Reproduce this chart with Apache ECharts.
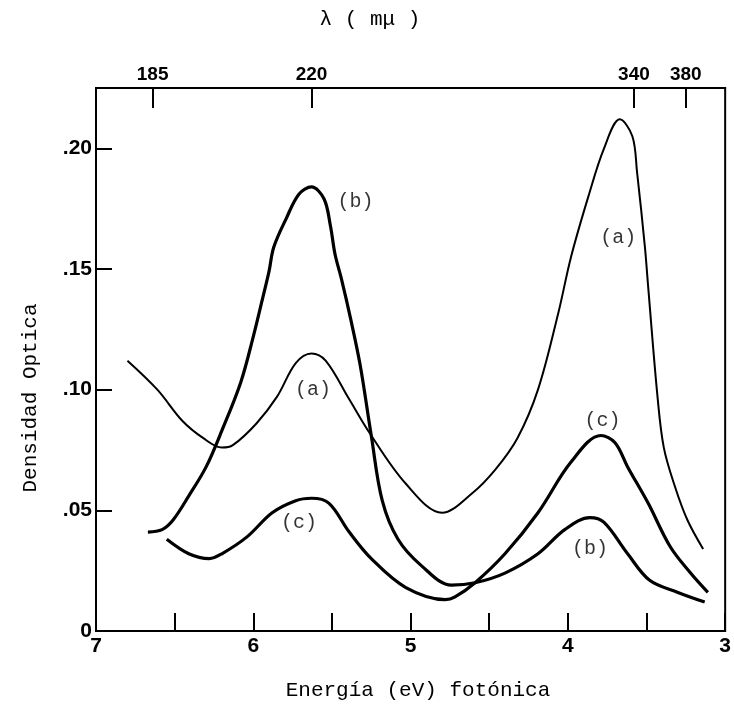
<!DOCTYPE html>
<html><head><meta charset="utf-8">
<script src="https://cdn.jsdelivr.net/npm/echarts@6/dist/echarts.min.js"></script>
<style>html,body{margin:0;padding:0;background:#fff;overflow:hidden}#c{width:734px;height:724px}</style>
</head><body><div id="c"></div>
<script>
// Curve (a)
const energyA = [6.80, 6.61, 6.45, 6.32, 6.20, 6.13, 5.98, 5.85, 5.73, 5.63, 5.54, 5.39, 5.27, 5.03, 4.80, 4.61, 4.46, 4.32, 4.19, 4.06, 3.98, 3.87, 3.77, 3.67, 3.59, 3.56, 3.51, 3.49, 3.43, 3.39, 3.32, 3.24, 3.14];
const valuesA = [0.112, 0.100, 0.087, 0.080, 0.076, 0.077, 0.086, 0.097, 0.111, 0.115, 0.112, 0.096, 0.083, 0.061, 0.049, 0.057, 0.067, 0.080, 0.100, 0.132, 0.155, 0.180, 0.200, 0.212, 0.205, 0.190, 0.159, 0.143, 0.097, 0.076, 0.060, 0.046, 0.034];
// Curve (b)
const energyB = [6.67, 6.58, 6.51, 6.41, 6.30, 6.20, 6.08, 6.00, 5.94, 5.90, 5.87, 5.79, 5.71, 5.63, 5.55, 5.51, 5.48, 5.44, 5.38, 5.32, 5.25, 5.18, 5.08, 4.93, 4.74, 4.59, 4.40, 4.19, 4.02, 3.86, 3.77, 3.62, 3.48, 3.30, 3.13];
const valuesB = [0.041, 0.042, 0.046, 0.056, 0.068, 0.083, 0.103, 0.122, 0.138, 0.149, 0.159, 0.171, 0.181, 0.184, 0.179, 0.168, 0.156, 0.146, 0.129, 0.110, 0.081, 0.054, 0.038, 0.027, 0.019, 0.020, 0.024, 0.032, 0.042, 0.047, 0.045, 0.032, 0.021, 0.016, 0.012];
// Curve (c)
const energyC = [6.55, 6.41, 6.28, 6.20, 6.04, 5.88, 5.73, 5.63, 5.52, 5.39, 5.25, 5.03, 4.78, 4.72, 4.59, 4.40, 4.19, 3.98, 3.79, 3.70, 3.62, 3.49, 3.35, 3.22, 3.11];
const valuesC = [0.038, 0.032, 0.030, 0.032, 0.039, 0.049, 0.054, 0.055, 0.053, 0.041, 0.030, 0.018, 0.013, 0.014, 0.020, 0.032, 0.049, 0.070, 0.081, 0.078, 0.068, 0.053, 0.035, 0.024, 0.016];

// Axes
const xTickValues = [7, 6.5, 6, 5.5, 5, 4.5, 4, 3.5, 3];
const xLabelValues = [7, 6, 5, 4, 3];
const yTickValues = [0, 0.05, 0.10, 0.15, 0.20];
const yTickLabels = ['0', '.05', '.10', '.15', '.20'];
const topTickEnergy = [6.64, 5.63, 3.58, 3.25];
const topTickLabels = ['185', '220', '340', '380'];

// Curve annotations [energy, value, text]
const curveLabels = [
  [5.35, 0.178, '(b)'],
  [5.62, 0.100, '(a)'],
  [5.71, 0.045, '(c)'],
  [3.68, 0.163, '(a)'],
  [3.78, 0.087, '(c)'],
  [3.86, 0.034, '(b)']
];

const zip = (xs, ys) => xs.map((x, i) => [x, ys[i]]);
const nearestIdx = (arr, v) => { let b = 0; arr.forEach((a, i) => { if (Math.abs(a - v) < Math.abs(arr[b] - v)) b = i; }); return b; };

const tickFont = { color: '#000', fontFamily: 'Liberation Sans', fontWeight: 'bold', fontSize: 21 };
const mono = '"Liberation Mono", monospace';

const chart = echarts.init(document.getElementById('c'), null, { renderer: 'canvas' });
chart.setOption({
  backgroundColor: '#fff',
  animation: false,
  grid: { left: 96, right: 4, top: 88, bottom: 93, show: true, borderColor: '#000', borderWidth: 2 },
  xAxis: [
    {
      type: 'value', min: 3, max: 7, inverse: true, position: 'bottom',
      axisLine: { show: true, onZero: false, lineStyle: { color: '#000', width: 2 } },
      axisTick: { show: true, inside: true, length: 18, customValues: xTickValues, lineStyle: { color: '#000', width: 2 } },
      axisLabel: { customValues: xLabelValues, margin: 5, ...tickFont },
      splitLine: { show: false }
    },
    {
      type: 'value', min: 3, max: 7, inverse: true, position: 'top',
      axisLine: { show: true, onZero: false, lineStyle: { color: '#000', width: 2 } },
      axisTick: { show: true, inside: true, length: 20, customValues: topTickEnergy, lineStyle: { color: '#000', width: 2 } },
      axisLabel: { customValues: topTickEnergy, margin: 4, formatter: v => topTickLabels[nearestIdx(topTickEnergy, v)], ...tickFont, fontSize: 19 },
      splitLine: { show: false }
    }
  ],
  yAxis: {
    type: 'value', min: 0, max: 0.225,
    axisLine: { show: true, onZero: false, lineStyle: { color: '#000', width: 2 } },
    axisTick: { show: true, inside: true, length: 16, customValues: yTickValues, lineStyle: { color: '#000', width: 2 } },
    axisLabel: { customValues: yTickValues, margin: 4, formatter: v => yTickLabels[nearestIdx(yTickValues, v)], ...tickFont },
    splitLine: { show: false }
  },
  graphic: [
    { type: 'text', x: 370, y: 19, style: { text: 'λ ( mμ )', font: '21px ' + mono, fill: '#000', align: 'center', verticalAlign: 'middle' } },
    { type: 'text', x: 418, y: 690, style: { text: 'Energía (eV) fotónica', font: '21px ' + mono, fill: '#000', align: 'center', verticalAlign: 'middle' } },
    { type: 'text', x: 30, y: 398, rotation: Math.PI / 2, style: { text: 'Densidad Optica', font: '21px ' + mono, fill: '#000', align: 'center', verticalAlign: 'middle' } }
  ],
  series: [
    { name: '(a)', type: 'line', data: zip(energyA, valuesA), smooth: 0.35, showSymbol: false, lineStyle: { color: '#000', width: 2 }, silent: true },
    { name: '(b)', type: 'line', data: zip(energyB, valuesB), smooth: 0.35, showSymbol: false, lineStyle: { color: '#000', width: 3.2 }, silent: true },
    { name: '(c)', type: 'line', data: zip(energyC, valuesC), smooth: 0.35, showSymbol: false, lineStyle: { color: '#000', width: 3.2 }, silent: true },
    {
      type: 'scatter', data: curveLabels, symbolSize: 0, silent: true,
      label: { show: true, position: 'inside', formatter: p => p.data[2], fontFamily: mono, fontSize: 20, color: '#000' }
    }
  ]
});
</script>
</body></html>
